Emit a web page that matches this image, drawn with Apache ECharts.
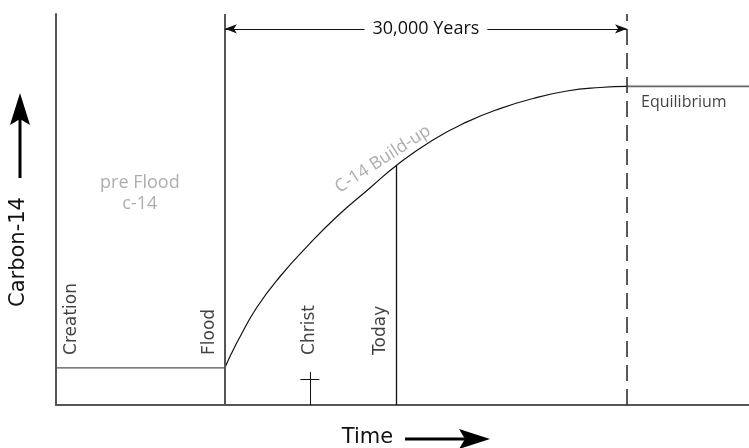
<!DOCTYPE html>
<html><head><meta charset="utf-8">
<script src="https://cdn.jsdelivr.net/npm/echarts@6/dist/echarts.min.js"></script>
<style>html,body{margin:0;padding:0;background:#fff}#c{width:749px;height:448px}</style>
</head><body><div id="c"></div>
<script>
// x: years after the Flood (Flood = 0, Equilibrium = 30,000); y: relative C-14 level (0-100)
const xRange = [-12600, 39100];
const yRange = [0, 100];
const preFloodLevel = 9.5;
const equilibriumLevel = 81.5;
const buildUpX = [0, 450, 1120, 2390, 4100, 6120, 8360, 10820, 12840, 15520, 18060, 20520, 22990, 25520, 27990, 30000];
const buildUpY = [9.5, 12.9, 17.4, 25.0, 32.8, 40.5, 48.2, 55.5, 61.4, 67.8, 72.4, 75.8, 78.4, 80.3, 81.2, 81.5];
const floodX = 0;
const equilibriumX = 30000;
const christX = 6340;
const christCross = [8.4, 6.6, 710];   // height, bar level, half bar width
const todayX = 12760;
const todayLevel = 61.4;
const spanLevel = 96.2;
const eventNames = ['Creation', 'Flood', 'Christ', 'Today'];
const eventLabelX = [-11450, -1160, 6340, 11640];
const eventLabelY = 12.8;
const spanLabel = '30,000 Years';
const preFloodLabel = 'pre Flood\nc-14';
const buildUpLabel = 'C-14 Build-up';
const equilibriumLabel = 'Equilibrium';
const yTitle = 'Carbon-14';
const xTitle = 'Time';

const chart = echarts.init(document.getElementById('c'), null, {renderer: 'canvas'});
const GRAY = '#555';
const txt = (extra) => Object.assign({show: true, position: 'inside', color: '#111'}, extra);

const option = {
  animation: false,
  grid: {left: 56, right: 0, top: 14, bottom: 43},
  xAxis: {type: 'value', min: xRange[0], max: xRange[1],
    axisLine: {show: true, onZero: false, lineStyle: {color: GRAY, width: 2}},
    axisTick: {show: false}, axisLabel: {show: false}, splitLine: {show: false}},
  yAxis: {type: 'value', min: yRange[0], max: yRange[1],
    axisLine: {show: true, onZero: false, lineStyle: {color: GRAY, width: 2}},
    axisTick: {show: false}, axisLabel: {show: false}, splitLine: {show: false}},
  series: [
    {type: 'line', symbol: 'none', silent: true,
      data: [[xRange[0], preFloodLevel], [floodX, preFloodLevel]],
      lineStyle: {color: GRAY, width: 1.2},
      markLine: {silent: true, symbol: ['none', 'none'], label: {show: false},
        data: [
          [{coord: [floodX, yRange[0]], lineStyle: {color: GRAY, width: 2, type: 'solid'}},
           {coord: [floodX, yRange[1]]}],
          [{coord: [equilibriumX, yRange[0]], lineStyle: {color: '#333', width: 1.6, type: [16, 8]}},
           {coord: [equilibriumX, yRange[1]]}],
          [{coord: [todayX, yRange[0]], lineStyle: {color: '#111', width: 1.3, type: 'solid'}},
           {coord: [todayX, todayLevel]}],
          [{coord: [christX, yRange[0]], lineStyle: {color: '#111', width: 1, type: 'solid'}},
           {coord: [christX, christCross[0]]}],
          [{coord: [christX - christCross[2], christCross[1]], lineStyle: {color: '#111', width: 1, type: 'solid'}},
           {coord: [christX + christCross[2], christCross[1]]}],
          [{coord: [floodX, spanLevel], symbol: 'arrow', symbolSize: [7, 12],
             lineStyle: {color: '#111', width: 1, type: 'solid'},
             label: {show: true, position: 'middle', verticalAlign: 'middle', distance: 0,
               formatter: spanLabel, color: '#111', fontSize: 18, fontFamily: 'Open Sans',
               backgroundColor: '#fff', padding: [2, 8]}},
           {coord: [equilibriumX, spanLevel], symbol: 'arrow', symbolSize: [7, 12]}]
        ]}
    },
    {type: 'line', symbol: 'none', silent: true, smooth: 0.5,
      data: buildUpX.map((x, i) => [x, buildUpY[i]]),
      lineStyle: {color: '#111', width: 1.2}},
    {type: 'line', symbol: 'none', silent: true,
      data: [[equilibriumX, equilibriumLevel], [xRange[1], equilibriumLevel]],
      lineStyle: {color: '#666', width: 1.6}},
    {type: 'scatter', symbolSize: 0, silent: true,
      data: eventNames.map((n, i) => ({value: [eventLabelX[i], eventLabelY],
        label: txt({formatter: n, rotate: 90, align: 'left', verticalAlign: 'middle',
          fontSize: 17, fontFamily: 'DejaVu Sans'})}))
      .concat([
        {value: [-6343, 54.2], label: txt({formatter: preFloodLabel, align: 'center', verticalAlign: 'middle',
          fontSize: 18, lineHeight: 21, fontFamily: 'Open Sans', color: '#999'})},
        {value: [11790, 62.9], label: txt({formatter: buildUpLabel, rotate: 33, align: 'center', verticalAlign: 'middle',
          fontSize: 17.5, fontFamily: 'Open Sans', color: '#999'})},
        {value: [31045, 77.5], label: txt({formatter: equilibriumLabel, align: 'left', verticalAlign: 'middle',
          fontSize: 16, fontFamily: 'Open Sans', color: '#111'})}
      ])}
  ],
  graphic: [
    {type: 'text', x: 18.5, y: 252, rotation: Math.PI / 2, silent: true,
      style: {text: yTitle, font: '21px "DejaVu Sans"', fill: '#111', align: 'center', verticalAlign: 'middle'}},
    {type: 'line', silent: true, shape: {x1: 20, y1: 178, x2: 20, y2: 115}, style: {stroke: '#000', lineWidth: 3}},
    {type: 'polygon', silent: true, shape: {points: [[20, 93], [30, 125], [20, 119], [10, 125]]}, style: {fill: '#000'}},
    {type: 'text', x: 367.5, y: 438, silent: true,
      style: {text: xTitle, font: '21px "DejaVu Sans"', fill: '#111', align: 'center', verticalAlign: 'middle'}},
    {type: 'line', silent: true, shape: {x1: 405, y1: 439, x2: 468, y2: 439}, style: {stroke: '#000', lineWidth: 3}},
    {type: 'polygon', silent: true, shape: {points: [[490, 439], [459, 429], [465, 439], [459, 449]]}, style: {fill: '#000'}}
  ]
};
chart.setOption(option);
</script></body></html>
